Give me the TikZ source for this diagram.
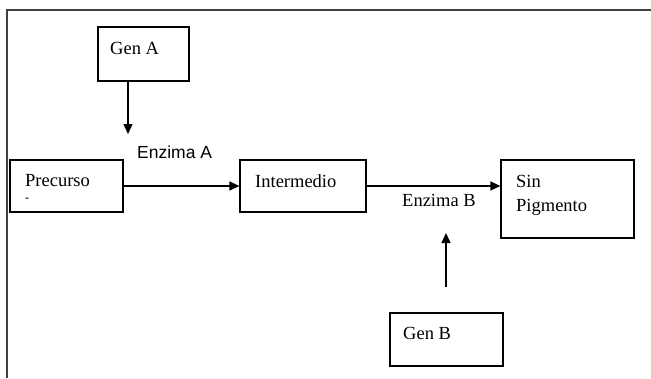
\documentclass[tikz,border=0pt]{standalone}
\usepackage{fontspec}
\setmainfont{Liberation Serif}
\newfontfamily\lsans{Liberation Sans}
\usetikzlibrary{arrows.meta}
\begin{document}
\begin{tikzpicture}[x=1pt,y=-1pt,
  box/.style={draw, line width=1.2pt, inner sep=0pt},
  lbl/.style={anchor=west, inner sep=0pt, font=\fontsize{18.5}{21}\selectfont},
  arr/.style={line width=1.3pt, -{Triangle[length=10pt,width=9pt]}},
  frame/.style={line width=1.8pt, black!75}]
\useasboundingbox (0,0) rectangle (651,378);
\draw[frame] (7,378) -- (7,10) -- (651,10);
% boxes
\node[box, minimum width=91pt, minimum height=54pt] (genA) at (143.5,54) {};
\node[box, minimum width=113pt, minimum height=52pt] (prec) at (66.5,186) {};
\node[box, minimum width=126pt, minimum height=52pt] (inter) at (303,186) {};
\node[box, minimum width=133pt, minimum height=78pt] (sinp) at (567.5,199) {};
\node[box, minimum width=113pt, minimum height=53pt] (genB) at (446.5,339.5) {};
% texts
\node[lbl] (tGenA) at (110,48) {Gen A};
\node[lbl, font=\lsans\fontsize{17.5}{20}\selectfont] (tEnzA) at (137,152) {Enzima A};
\node[lbl] (tPrec) at (25,181) {Precurso};
\node[lbl, font=\bfseries\fontsize{12}{14}\selectfont] (tDash) at (25,200) {-};
\node[lbl] (tInter) at (255,181) {Intermedio};
\node[lbl] (tEnzB) at (402,200) {Enzima B};
\node[lbl] (tSin) at (516,181) {Sin};
\node[lbl] (tPig) at (516,207) {Pigmento};
\node[lbl] (tGenB) at (403,333) {Gen B};
% connectors
\coordinate (aEnd) at (128,134);
\coordinate (bStart) at (446,287);
\coordinate (bEnd) at (446,233);
\draw[arr] (genA.south -| aEnd) -- (aEnd);
\draw[arr] (prec.east) -- (inter.west);
\draw[arr] (inter.east) -- (inter.east -| sinp.west);
\draw[arr] (bStart) -- (bEnd);
\end{tikzpicture}
\end{document}
